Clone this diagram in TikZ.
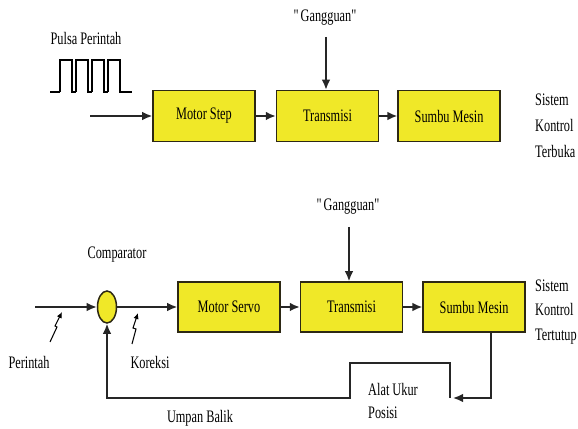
\documentclass[tikz,border=0pt]{standalone}
\usepackage{fontspec}
\setmainfont[FakeStretch=0.7]{Liberation Serif}
\usetikzlibrary{positioning,arrows.meta,shapes.geometric}
\definecolor{kuning}{RGB}{240,232,40}
\definecolor{tepi}{RGB}{45,40,20}
\tikzset{blok/.style={rectangle,draw=tepi,fill=kuning,line width=1.3pt,minimum width=3.06cm,minimum height=1.53cm,inner sep=0pt,font=\fontsize{15}{18}\selectfont},
teks/.style={inner sep=0pt,font=\fontsize{15}{18}\selectfont},
pana/.style={-{Latex[length=3mm,width=2.6mm]},line width=1.4pt,draw=black!85},
kilat/.style={-{Latex[length=1.8mm,width=1.6mm]},line width=0.9pt},
}

\begin{document}
\begin{tikzpicture}[x=0.03cm,y=-0.03cm]
\useasboundingbox (0,0) rectangle (578,429);

%% sistem kontrol terbuka
\node[blok] (step) at (204,116) {Motor Step};
\node[blok] (trans1) [right=0.6cm of step] {Transmisi};
\node[blok] (sumbu1) [right=0.54cm of trans1] {Sumbu Mesin};
\coordinate (in1) at (90,116);
\coordinate (g1) at (326,37);
\node[teks] (pulsa) at (86,38) {Pulsa Perintah};
\node[teks] (gang1) at (326,18) {\textquotedbl Gangguan\textquotedbl};
\node[teks,align=left,anchor=west] (ket1) at (535,126) {Sistem\\[4pt]Kontrol\\[4pt]Terbuka};

\draw[line width=1.1pt] (50,92) -- (60,92);
\foreach \i in {0,...,3}
	\draw[line width=1.1pt] (60+16*\i,92) |- (72+16*\i,60) -- (72+16*\i,92) -- (76+16*\i,92);
\draw[line width=1.1pt] (120,92) -- (132,92);

\draw[pana] (in1) -- (step);
\draw[pana] (step) -- (trans1);
\draw[pana] (trans1) -- (sumbu1);
\draw[pana] (g1) -- (g1 |- trans1.north);

%% sistem kontrol tertutup
\node[ellipse,draw=tepi,fill=kuning,line width=1.3pt,minimum width=0.57cm,minimum height=0.96cm,inner sep=0pt] (comp) at (107,307) {};
\node[blok,minimum height=1.5cm] (servo) at (229,307) {Motor Servo};
\node[blok,minimum height=1.5cm] (trans2) [right=0.57cm of servo] {Transmisi};
\node[blok,minimum height=1.5cm] (sumbu2) [right=0.57cm of trans2] {Sumbu Mesin};
\coordinate (in2) at (35,307);
\coordinate (g2) at (349,227);
\coordinate (fb1) at (491,398);
\coordinate (alat) at (453,398);
\coordinate (a1) at (450,398);
\coordinate (a2) at (350,363);
\coordinate (b1) at (350,398);

\node[teks] (komp) at (117,255) {Comparator};
\node[teks] (gang2) at (349,207) {\textquotedbl Gangguan\textquotedbl};
\node[teks] (perintah) at (29,362) {Perintah};
\node[teks] (koreksi) at (150,362) {Koreksi};
\node[teks] (umpan) at (200,418) {Umpan Balik};
\node[teks,align=left,anchor=west] (ukur) at (368,401) {Alat Ukur\\[2pt]Posisi};
\node[teks,align=left,anchor=west] (ket2) at (535,312) {Sistem\\[3pt]Kontrol\\[3pt]Tertutup};

\draw[pana] (in2) -- (comp);
\draw[pana] (comp) -- (servo);
\draw[pana] (servo) -- (trans2);
\draw[pana] (trans2) -- (sumbu2);
\draw[pana] (g2) -- (g2 |- trans2.north);
\draw[pana] (sumbu2.south -| fb1) -- (fb1) -- (alat);
\draw[pana] (a1) |- (a2) -- (b1) -| (comp.south);

\draw[kilat] (50,342) -- (57,327) -- (55,326) -- (62,312);
\draw[kilat] (132,344) -- (136,329) -- (133,328) -- (138,313);
\end{tikzpicture}
\end{document}
